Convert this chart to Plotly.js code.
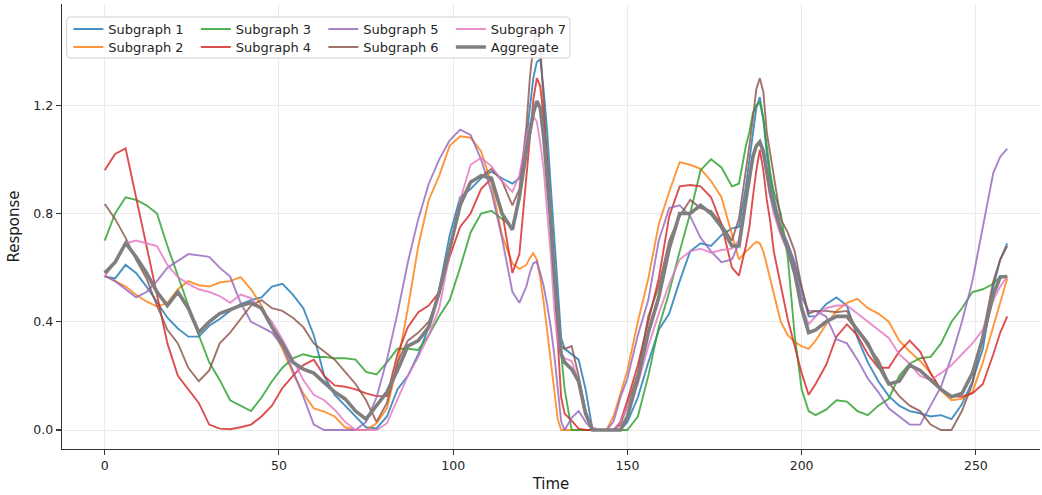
<!DOCTYPE html>
<html>
<head>
<meta charset="utf-8">
<script src="https://cdn.plot.ly/plotly-3.0.1.min.js"></script>
<style>html,body{margin:0;padding:0;background:#fff;}#chart{width:1042px;height:495px;}</style>
</head>
<body>
<div id="chart"></div>
<script>
// Time samples
const time = [0,3,6,9,12,15,18,21,24,27,30,33,36,39,42,45,48,51,54,57,60,63,66,69,72,75,78,81,84,87,90,93,96,99,102,105,108,111,114,117,119,121,122,123,124,125,126,127,128,129,130,131,132,134,136,138,140,142,144,146,148,150,153,156,159,162,165,168,171,174,177,180,182,184,185,186,187,188,189,190,191,192,194,196,198,200,202,204,207,210,213,216,219,222,225,228,231,234,237,240,243,246,249,252,255,257,259];

const subgraph1 = [0.567,0.56,0.61,0.58,0.53,0.47,0.415,0.375,0.345,0.345,0.385,0.41,0.44,0.465,0.48,0.49,0.53,0.54,0.50,0.45,0.35,0.20,0.13,0.09,0.05,0.01,0.006,0.05,0.15,0.20,0.28,0.38,0.52,0.72,0.86,0.89,0.93,0.955,0.93,0.91,0.93,1.07,1.19,1.30,1.36,1.37,1.25,1.10,0.90,0.70,0.50,0.34,0.30,0.28,0.26,0.15,0.0,0,0,0,0,0.03,0.12,0.25,0.37,0.43,0.55,0.66,0.69,0.68,0.72,0.745,0.75,0.90,1.00,1.10,1.19,1.23,1.15,1.02,0.93,0.86,0.75,0.69,0.62,0.52,0.42,0.42,0.465,0.49,0.46,0.34,0.25,0.18,0.125,0.09,0.07,0.062,0.05,0.055,0.04,0.095,0.18,0.30,0.53,0.63,0.69];

const subgraph2 = [0.57,0.55,0.53,0.50,0.475,0.456,0.47,0.52,0.55,0.535,0.53,0.545,0.55,0.565,0.52,0.46,0.38,0.30,0.21,0.135,0.08,0.068,0.05,0.01,0,0,0.025,0.08,0.24,0.45,0.68,0.85,0.94,1.05,1.085,1.08,1.03,0.91,0.72,0.615,0.595,0.61,0.635,0.653,0.63,0.56,0.47,0.36,0.25,0.15,0.04,0,0,0,0,0,0,0,0,0.05,0.14,0.22,0.40,0.56,0.76,0.88,0.99,0.98,0.965,0.92,0.86,0.72,0.63,0.66,0.67,0.685,0.695,0.69,0.66,0.61,0.56,0.50,0.40,0.35,0.325,0.31,0.30,0.33,0.39,0.44,0.47,0.485,0.45,0.43,0.40,0.33,0.29,0.255,0.21,0.145,0.11,0.115,0.14,0.25,0.38,0.47,0.56];

const subgraph3 = [0.70,0.80,0.86,0.85,0.83,0.80,0.68,0.57,0.46,0.35,0.25,0.185,0.11,0.09,0.07,0.12,0.18,0.23,0.265,0.28,0.27,0.27,0.265,0.265,0.26,0.215,0.205,0.25,0.30,0.30,0.296,0.35,0.42,0.48,0.60,0.73,0.80,0.81,0.78,0.75,0.86,1.03,1.11,1.17,1.215,1.19,1.08,0.93,0.77,0.58,0.42,0.28,0.15,0,0,0,0,0,0,0,0,0,0.05,0.20,0.38,0.51,0.66,0.80,0.96,1.0,0.97,0.90,0.91,1.05,1.10,1.17,1.20,1.21,1.15,1.05,0.95,0.88,0.80,0.64,0.35,0.15,0.07,0.055,0.075,0.11,0.105,0.07,0.055,0.09,0.115,0.20,0.245,0.265,0.27,0.32,0.40,0.45,0.51,0.52,0.54,0.567,0.567];

const subgraph4 = [0.96,1.02,1.04,0.86,0.67,0.49,0.32,0.20,0.15,0.10,0.02,0.005,0.003,0.01,0.02,0.05,0.09,0.155,0.20,0.24,0.26,0.20,0.165,0.16,0.15,0.135,0.125,0.125,0.28,0.38,0.435,0.46,0.51,0.64,0.75,0.80,0.89,0.93,0.81,0.58,0.65,0.94,1.10,1.22,1.30,1.27,1.15,1.00,0.80,0.55,0.33,0.12,0.06,0.035,0.005,0,0,0,0,0,0.03,0.11,0.24,0.40,0.56,0.79,0.90,0.905,0.90,0.86,0.76,0.60,0.57,0.68,0.75,0.86,0.96,1.035,0.96,0.85,0.77,0.66,0.53,0.41,0.31,0.21,0.13,0.17,0.24,0.345,0.39,0.35,0.28,0.23,0.23,0.29,0.33,0.29,0.21,0.15,0.125,0.123,0.135,0.17,0.28,0.36,0.42];

const subgraph5 = [0.57,0.55,0.52,0.49,0.51,0.55,0.60,0.625,0.65,0.645,0.64,0.60,0.567,0.47,0.40,0.38,0.36,0.31,0.22,0.123,0.02,0,0,0,0,0.03,0.12,0.26,0.43,0.62,0.78,0.91,1.0,1.07,1.11,1.09,1.00,0.88,0.71,0.51,0.47,0.53,0.58,0.616,0.622,0.58,0.53,0.46,0.38,0.28,0.15,0.03,0.0,0.045,0.07,0.03,0,0,0,0.03,0.12,0.19,0.35,0.48,0.70,0.82,0.83,0.79,0.71,0.66,0.62,0.63,0.69,0.85,0.92,1.0,1.05,1.06,1.02,0.95,0.88,0.82,0.74,0.69,0.61,0.49,0.44,0.44,0.42,0.335,0.32,0.26,0.19,0.14,0.08,0.05,0.02,0.02,0.09,0.16,0.27,0.40,0.55,0.75,0.95,1.01,1.04];

const subgraph6 = [0.835,0.78,0.71,0.63,0.56,0.46,0.37,0.32,0.23,0.18,0.22,0.32,0.36,0.41,0.46,0.48,0.45,0.44,0.415,0.38,0.32,0.29,0.26,0.215,0.17,0.11,0.03,0.10,0.25,0.33,0.36,0.40,0.50,0.66,0.84,0.92,0.935,0.965,0.92,0.83,0.89,1.12,1.30,1.42,1.48,1.42,1.20,1.00,0.78,0.55,0.38,0.31,0.30,0.31,0.20,0.07,0,0,0,0,0.02,0.09,0.21,0.42,0.53,0.70,0.79,0.85,0.82,0.81,0.76,0.70,0.78,0.95,1.05,1.15,1.26,1.30,1.25,1.10,1.02,0.93,0.78,0.73,0.66,0.53,0.43,0.44,0.44,0.435,0.44,0.37,0.31,0.26,0.175,0.125,0.09,0.07,0.02,0,0,0.07,0.17,0.355,0.55,0.63,0.68];

const subgraph7 = [0.567,0.62,0.69,0.70,0.69,0.68,0.61,0.565,0.54,0.52,0.51,0.495,0.47,0.50,0.487,0.445,0.40,0.335,0.26,0.185,0.13,0.11,0.075,0.03,0,0,0,0.025,0.11,0.20,0.27,0.35,0.45,0.65,0.85,0.98,1.005,0.975,0.92,0.88,0.94,1.08,1.13,1.158,1.14,1.06,0.96,0.80,0.65,0.45,0.32,0.28,0.265,0.255,0.18,0.07,0.01,0,0,0,0.03,0.09,0.17,0.31,0.43,0.54,0.63,0.66,0.67,0.655,0.665,0.67,0.70,0.86,0.93,1.00,1.05,1.06,1.02,0.94,0.86,0.80,0.72,0.66,0.57,0.46,0.39,0.42,0.45,0.46,0.46,0.43,0.40,0.37,0.34,0.28,0.245,0.20,0.185,0.21,0.24,0.28,0.32,0.37,0.48,0.53,0.567];

const aggregate = [0.58,0.62,0.69,0.64,0.58,0.51,0.46,0.51,0.45,0.36,0.40,0.43,0.445,0.46,0.47,0.45,0.38,0.32,0.25,0.225,0.21,0.175,0.14,0.115,0.07,0.04,0.09,0.14,0.22,0.31,0.33,0.38,0.51,0.67,0.83,0.915,0.94,0.93,0.80,0.74,0.86,1.03,1.11,1.17,1.215,1.19,1.08,0.93,0.77,0.58,0.42,0.28,0.25,0.225,0.18,0.06,0,0,0,0,0,0.05,0.19,0.36,0.49,0.67,0.80,0.80,0.83,0.80,0.75,0.68,0.68,0.85,0.93,1.01,1.05,1.065,1.03,0.95,0.88,0.83,0.74,0.67,0.58,0.45,0.36,0.37,0.40,0.42,0.42,0.37,0.32,0.24,0.17,0.18,0.24,0.22,0.185,0.15,0.123,0.135,0.21,0.34,0.50,0.565,0.567];

const seriesNames = ["Subgraph 1","Subgraph 2","Subgraph 3","Subgraph 4","Subgraph 5","Subgraph 6","Subgraph 7","Aggregate"];
const seriesValues = [subgraph1,subgraph2,subgraph3,subgraph4,subgraph5,subgraph6,subgraph7,aggregate];
const seriesColors = ["#1f77b4","#ff7f0e","#2ca02c","#d62728","#9467bd","#8c564b","#e377c2","#7f7f7f"];
// legend rows (matplotlib ncol=4 fills column-wise)
const legendRow = ["legend","legend2","legend","legend2","legend","legend2","legend","legend2"];

const xTicks = [0,50,100,150,200,250];
const yTicks = [0.0,0.4,0.8,1.2];

const traces = seriesValues.map((vals, i) => {
  const isAgg = i === seriesValues.length - 1;
  return {
    type: "scatter", mode: "lines",
    x: time, y: vals, name: seriesNames[i],
    legend: legendRow[i],
    line: {color: seriesColors[i], width: isAgg ? 3.6 : 1.9},
    opacity: isAgg ? 1 : 0.82,
    hoverinfo: "skip"
  };
});

const font = "DejaVu Sans, sans-serif";
const legendCommon = {
  orientation: "h", xanchor: "left", yanchor: "middle", x: 0.0065,
  bgcolor: "rgba(0,0,0,0)", borderwidth: 0,
  entrywidth: 82.5, entrywidthmode: "pixels",
  font: {family: font, size: 13, color: "#262626"},
  itemclick: false, itemdoubleclick: false
};

// rounded legend frame (paper coordinates)
const bx0 = 0.0048, bx1 = 0.5194, by0 = 0.8787, by1 = 0.9708, rx = 0.004, ry = 0.009;
const framePath = `M${bx0+rx},${by0} L${bx1-rx},${by0} Q${bx1},${by0} ${bx1},${by0+ry} L${bx1},${by1-ry} Q${bx1},${by1} ${bx1-rx},${by1} L${bx0+rx},${by1} Q${bx0},${by1} ${bx0},${by1-ry} L${bx0},${by0+ry} Q${bx0},${by0} ${bx0+rx},${by0} Z`;

const layout = {
  width: 1042, height: 495,
  margin: {l: 62, r: 2, t: 4, b: 46, autoexpand: false},
  paper_bgcolor: "#ffffff", plot_bgcolor: "#ffffff",
  font: {family: font, size: 13, color: "#262626"},
  showlegend: true,
  legend: Object.assign({}, legendCommon, {y: 0.9438}),
  legend2: Object.assign({}, legendCommon, {y: 0.9034}),
  xaxis: {
    range: [-12.25, 268.4],
    tickvals: xTicks, ticktext: xTicks.map(String),
    showgrid: true, gridcolor: "#ebebeb", gridwidth: 1,
    zeroline: false,
    showline: true, linecolor: "#333333", linewidth: 1.3,
    ticks: "outside", ticklen: 5, tickwidth: 1.1, tickcolor: "#333333",
    tickfont: {family: font, size: 12.5, color: "#262626"},
    title: {text: "Time", font: {family: font, size: 15, color: "#1a1a1a"}, standoff: 6}
  },
  yaxis: {
    range: [-0.0702, 1.574],
    tickvals: yTicks, ticktext: yTicks.map(v => v.toFixed(1)),
    showgrid: true, gridcolor: "#ebebeb", gridwidth: 1,
    zeroline: false,
    showline: true, linecolor: "#333333", linewidth: 1.3,
    ticks: "outside", ticklen: 5, tickwidth: 1.1, tickcolor: "#333333",
    tickfont: {family: font, size: 12.5, color: "#262626"},
    title: {text: "Response", font: {family: font, size: 15, color: "#1a1a1a"}, standoff: 10}
  },
  shapes: [{
    type: "path", xref: "paper", yref: "paper",
    path: framePath,
    fillcolor: "rgba(255,255,255,0.85)",
    line: {color: "#d0d0d0", width: 1},
    layer: "above"
  }]
};

Plotly.newPlot("chart", traces, layout, {displayModeBar: false, staticPlot: true});
</script>
</body>
</html>
